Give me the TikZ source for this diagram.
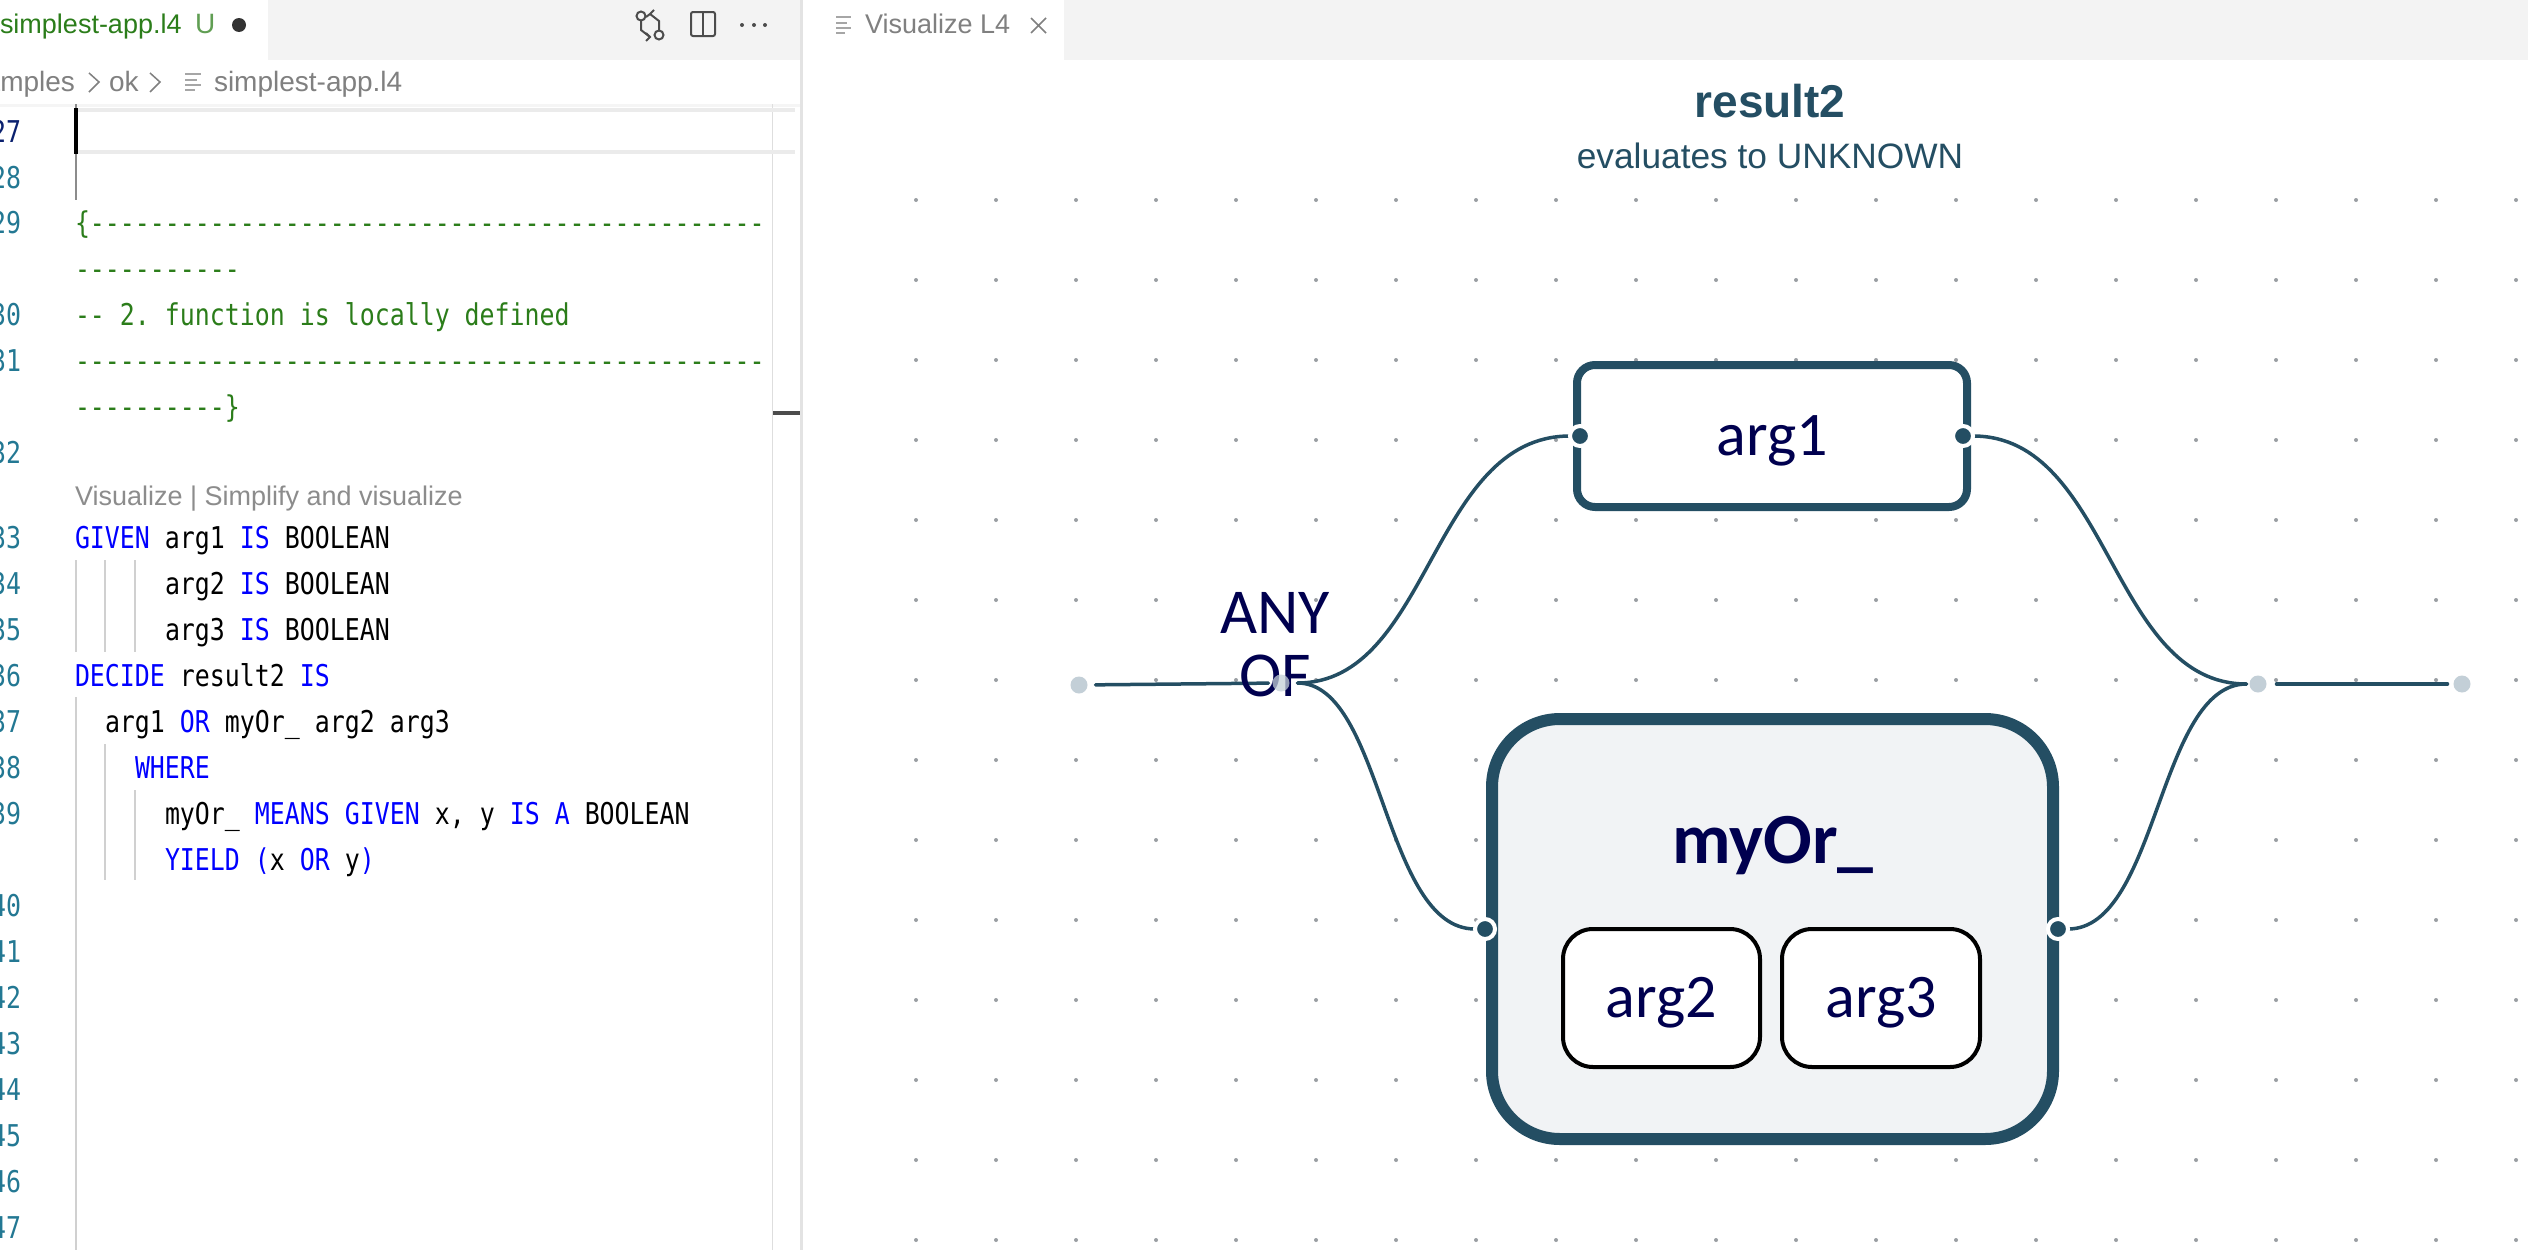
\documentclass[tikz,border=0pt]{standalone}
\usepackage{fontspec}
\usetikzlibrary{calc}
\newfontfamily\uifont{Liberation Sans}
\newfontfamily\diafont{Carlito}
\newfontfamily\codefont[FakeStretch=0.83,Ligatures=NoCommon]{DejaVu Sans Mono}
\definecolor{teal}{HTML}{244E63}
\definecolor{navy}{HTML}{00004F}
\definecolor{pale}{HTML}{C3CFD7}
\definecolor{griddot}{HTML}{9A9EA3}
\definecolor{tabgrey}{HTML}{F3F3F3}
\definecolor{guide}{HTML}{D0D0D0}
\definecolor{cmt}{HTML}{2B7D1A}
\definecolor{kw}{HTML}{0000FF}
\definecolor{num}{HTML}{237893}
\definecolor{numact}{HTML}{0B216F}
\definecolor{uigrey}{HTML}{808080}
\definecolor{boxfill}{HTML}{F1F3F5}
\newcommand{\K}[1]{\textcolor{kw}{#1}}
\pgfdeclarelayer{gridlayer}
\pgfdeclarelayer{linelayer}
\pgfsetlayers{gridlayer,linelayer,main}
\tikzset{
  every node/.style={inner sep=0pt,outer sep=0pt},
  code/.style={anchor=base west,font=\codefont\fontsize{30}{30}\selectfont\frenchspacing,text=black},
  comment/.style={code,text=cmt},
  lnum/.style={anchor=base east,font=\codefont\fontsize{30}{30}\selectfont,text=num},
  uitext/.style={anchor=base west,font=\uifont\fontsize{28}{28}\selectfont,text=uigrey},
  wire/.style={draw=teal,line width=3.5pt,line cap=round},
  hbez/.style={to path={let \p1=(\tikztostart),\p2=(\tikztotarget) in .. controls ({(\x1+\x2)/2},\y1) and ({(\x1+\x2)/2},\y2) .. (\tikztotarget)}},
  port/.style={circle,fill=teal,draw=white,line width=4pt,minimum size=20pt},
  endpoint/.style={circle,fill=pale,minimum size=17pt},
  leafbox/.style={draw=teal,fill=white,line width=8pt,rounded corners=18pt},
  groupbox/.style={draw=teal,fill=boxfill,line width=12pt,rounded corners=68pt},
  argbox/.style={draw=black,fill=white,line width=4pt,rounded corners=30pt},
  dialabel/.style={font=\diafont\fontsize{62}{62}\selectfont,text=navy,text height=38pt,text depth=0pt},
  guideline/.style={draw=guide,line width=1.5pt},
}
\begin{document}
\begin{tikzpicture}[x=1pt,y=-1pt]
\useasboundingbox (0,0) rectangle (2528,1250);
\begin{pgfonlayer}{gridlayer}
\fill[white] (0,0) rectangle (2528,1250);
\end{pgfonlayer}

% ----- editor chrome
\fill[tabgrey] (268,0) rectangle (800,60);
\fill[tabgrey] (1064,0) rectangle (2528,60);
\fill[guide!60] (800,0) rectangle (803,1250);
\fill[black!4] (0,104) rectangle (800,107);
\draw[guide!70,line width=1pt] (772,104) -- (772,1250);
\fill[black!8] (76,108) rectangle (795,112);
\fill[black!8] (76,150) rectangle (795,154);
\fill[black!70] (773,411) rectangle (800,415);

% left tab
\node[uitext,text=cmt,font=\uifont\fontsize{27}{27}\selectfont] (tabname) at (0,34) {simplest-app.l4};
\node[uitext,text=cmt!75] (tabu) at (195,34) {U};
\fill[black!80] (239,25) circle (7);
% tab icons
\draw[black!70,line width=2pt] (641,16) circle (4.5) (659,35) circle (4.5);
\draw[black!70,line width=2pt] (641,21) -- (641,30) -- (650,37);
\draw[black!70,line width=2pt] (659,30) -- (659,21) -- (650,14);
\draw[black!70,line width=2pt] (646,17) -- (650,14) -- (654,10);
\draw[black!70,line width=2pt] (646,33) -- (650,37) -- (646,41);
\draw[black!70,line width=2pt,rounded corners=2pt] (691,12) rectangle (715,36);
\draw[black!70,line width=2pt] (703,12) -- (703,36);
\fill[black!70] (742,25) circle (2) (754,25) circle (2) (765,25) circle (2);

% breadcrumb
\node[uitext,anchor=base east] (crumb1) at (75,91) {amples};
\draw[uigrey,line width=1.5pt] (89,73) -- (99,82) -- (89,92);
\node[uitext] (crumb2) at (109,91) {ok};
\draw[uigrey,line width=1.5pt] (150,73) -- (160,82) -- (150,92);
\draw[black!35,line width=2pt] (185,74) -- (201,74) (185,80) -- (197,80) (185,85) -- (201,85) (185,90) -- (195,90);
\node[uitext] (crumb3) at (214,91) {simplest-app.l4};

% right tab
\draw[black!35,line width=2.5pt] (836,17) -- (851,17) (836,23) -- (847,23) (836,28) -- (851,28) (836,33) -- (845,33);
\node[uitext,font=\uifont\fontsize{27}{27}\selectfont] (vistab) at (865,34) {Visualize L4};
\draw[black!50,line width=1.5pt] (1031,18) -- (1046,33) (1046,18) -- (1031,33);

% ----- code
\draw[draw=black!45,line width=1.5pt] (76,104) -- (76,200);
\fill[black] (74,108) rectangle (78,154);
\draw[guideline] (76,560) -- (76,652) (105,560) -- (105,652) (135,560) -- (135,652);
\draw[guideline] (76,697) -- (76,1250) (105,744) -- (105,880) (135,790) -- (135,880);

\node[lnum,text=numact] (n27) at (21,142) {27};
\node[lnum] (n28) at (21,188) {28};
\node[lnum] (n29) at (21,233) {29};
\node[lnum] (n30) at (21,325) {30};
\node[lnum] (n31) at (21,371) {31};
\node[lnum] (n32) at (21,463) {32};
\node[lnum] (n33) at (21,548) {33};
\node[lnum] (n34) at (21,594) {34};
\node[lnum] (n35) at (21,640) {35};
\node[lnum] (n36) at (21,686) {36};
\node[lnum] (n37) at (21,732) {37};
\node[lnum] (n38) at (21,778) {38};
\node[lnum] (n39) at (21,824) {39};
\node[lnum] (n40) at (21,916) {40};
\node[lnum] (n41) at (21,962) {41};
\node[lnum] (n42) at (21,1008) {42};
\node[lnum] (n43) at (21,1054) {43};
\node[lnum] (n44) at (21,1100) {44};
\node[lnum] (n45) at (21,1146) {45};
\node[lnum] (n46) at (21,1192) {46};
\node[lnum] (n47) at (21,1238) {47};

\node[comment] (c29) at (75,233) {\{---------------------------------------------};
\node[comment] (c29b) at (75,279) {-----------};
\node[comment] (c30) at (75,325) {-- 2. function is locally defined};
\node[comment] (c31) at (75,371) {----------------------------------------------};
\node[comment] (c31b) at (75,417) {----------\}};
\node[uitext,font=\uifont\fontsize{27}{27}\selectfont,text=black!45] (lens) at (75,505) {Visualize | Simplify and visualize};
\node[code] (c33) at (75,548) {\K{GIVEN} arg1 \K{IS} BOOLEAN};
\node[code] (c34) at (165,594) {arg2 \K{IS} BOOLEAN};
\node[code] (c35) at (165,640) {arg3 \K{IS} BOOLEAN};
\node[code] (c36) at (75,686) {\K{DECIDE} result2 \K{IS}};
\node[code] (c37) at (105,732) {arg1 \K{OR} myOr\_ arg2 arg3};
\node[code,text=kw] (c38) at (135,778) {WHERE};
\node[code] (c39) at (165,824) {myOr\_ \K{MEANS} \K{GIVEN} x, y \K{IS} \K{A} BOOLEAN};
\node[code] (c39b) at (165,870) {\K{YIELD} \K{(}x \K{OR} y\K{)}};

% ----- visualiser heading
\node[anchor=base,font=\uifont\bfseries\fontsize{46}{46}\selectfont,text=teal] (title) at (1770,117) {result2};
\node[anchor=base,font=\uifont\fontsize{35.3}{36}\selectfont,text=teal] (subtitle) at (1770,168) {evaluates to UNKNOWN};

% ----- dot grid
\begin{pgfonlayer}{gridlayer}
\foreach \gx in {0,...,20}
  \foreach \gy in {0,...,13}
    \fill[griddot] ({916+80*\gx},{200+80*\gy}) circle (2);
\end{pgfonlayer}

% ----- diagram nodes
\node[leafbox,minimum width=390pt,minimum height=142pt,dialabel] (arg1) at (1772,436) {arg1};
\node[groupbox,minimum width=561pt,minimum height=420pt] (myor) at (1772.5,929) {};
\node[anchor=base,font=\diafont\bfseries\fontsize{72}{72}\selectfont,text=navy] (myortitle) at (1773,863) {myOr\_};
\node[argbox,minimum width=197pt,minimum height=138pt,dialabel] (arg2) at (1661.5,998) {arg2};
\node[argbox,minimum width=198pt,minimum height=138pt,dialabel] (arg3) at (1881,998) {arg3};

\node[port] (p1l) at (1580,436) {};
\node[port] (p1r) at (1963,436) {};
\node[port] (p2l) at (1485,929) {};
\node[port] (p2r) at (2058,929) {};

\node[anchor=base,font=\diafont\fontsize{64}{64}\selectfont,text=navy] (any) at (1275,633) {ANY};
\node[anchor=base,font=\diafont\fontsize{64}{64}\selectfont,text=navy] (of) at (1275,696) {OF};

\node[endpoint] (n0) at (1079,685) {};
\node[endpoint,opacity=.75] (n1) at (1281,683) {};
\node[endpoint] (n2) at (2258,684) {};
\node[endpoint] (n3) at (2462,684) {};

% ----- connectors
\begin{pgfonlayer}{linelayer}
\draw[wire,shorten <=8pt,shorten >=4pt] (n0) -- (n1);
\draw[wire,shorten <=8pt] (n1) to[hbez] (p1l);
\draw[wire,shorten <=8pt] (n1) to[hbez] (p2l);
\draw[wire,shorten >=3pt] (p1r) to[hbez] (n2);
\draw[wire,shorten >=3pt] (p2r) to[hbez] (n2);
\draw[wire,shorten <=10pt,shorten >=6pt] (n2) -- (n3);
\end{pgfonlayer}
\end{tikzpicture}
\end{document}
